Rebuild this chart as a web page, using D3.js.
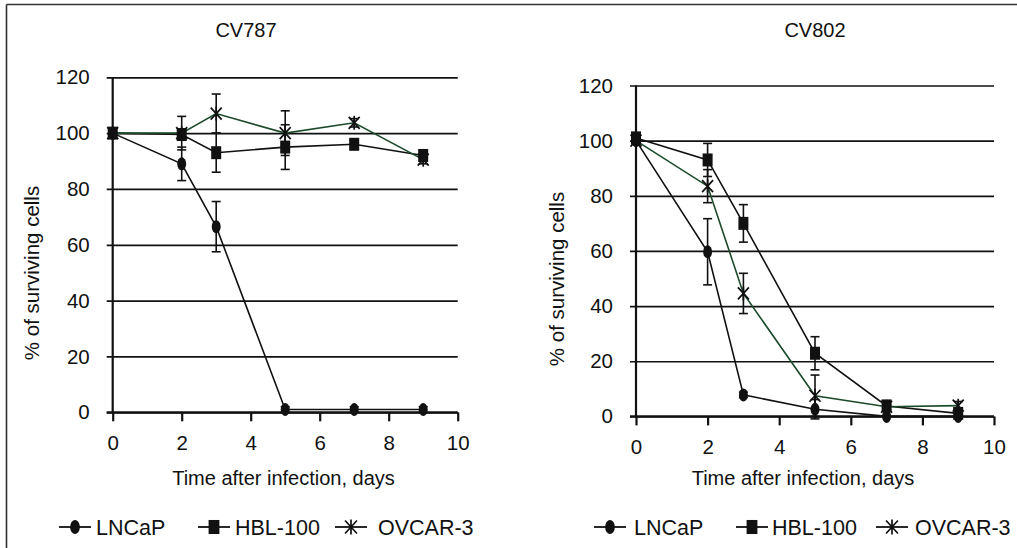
<!DOCTYPE html>
<html><head><meta charset="utf-8">
<script src="https://cdn.jsdelivr.net/npm/d3@7"></script>
<style>body{margin:0;background:#fff}svg{display:block}text{font-family:"Liberation Sans",Arial,sans-serif;fill:#111}</style>
</head><body>
<svg id="c" width="1017" height="548"></svg>
<script>
const days = [0, 2, 3, 5, 7, 9];
const xTicks = [0, 2, 4, 6, 8, 10];
const yTicks = [0, 20, 40, 60, 80, 100, 120];
const seriesNames = ["LNCaP", "HBL-100", "OVCAR-3"];
const panelTitles = ["CV787", "CV802"];
const xTitle = "Time after infection, days";
const yTitle = "% of surviving cells";

// CV787
const cv787_LNCaP = [100, 89, 66.5, 1, 1, 1];
const cv787_LNCaP_err = [0, 6, 9, 1, 1, 1];
const cv787_HBL = [100, 99.5, 93, 95, 96, 92];
const cv787_HBL_err = [0, 2, 7, 8, 1.5, 2];
const cv787_OVCAR = [100, 100, 107, 100, 103.7, 90.5];
const cv787_OVCAR_err = [0, 6, 7, 8, 1.5, 1.5];
// CV802
const cv802_LNCaP = [100, 59.7, 7.8, 2.6, 0, 0];
const cv802_LNCaP_err = [0, 12, 1, 3.5, 0.5, 0.5];
const cv802_HBL = [101, 93, 70, 22.9, 3.8, 1.1];
const cv802_HBL_err = [1, 6, 6.8, 6, 1.5, 1.5];
const cv802_OVCAR = [100, 83.5, 44.6, 7.5, 3.5, 3.9];
const cv802_OVCAR_err = [0, 6, 7.3, 7.5, 1, 1.5];

const svg = d3.select("#c");
const lineColors = ["#111", "#111", "#1d4a2c"];
const markers = ["circle", "square", "star"];

// frame
svg.append("line").attr("x1", 6.5).attr("y1", 4.5).attr("x2", 1017).attr("y2", 4.5).attr("stroke", "#333").attr("stroke-width", 1.6);
svg.append("line").attr("x1", 6.5).attr("y1", 4.5).attr("x2", 6.5).attr("y2", 548).attr("stroke", "#333").attr("stroke-width", 1.6);

function drawMarker(g, type, cx, cy, s) {
  s = s || 1;
  if (type === "circle") {
    g.append("ellipse").attr("cx", cx).attr("cy", cy).attr("rx", 4.5 * s).attr("ry", 6.5 * s).attr("fill", "#111");
  } else if (type === "square") {
    g.append("rect").attr("x", cx - 5 * s).attr("y", cy - 6.5 * s).attr("width", 10 * s).attr("height", 13 * s).attr("fill", "#111");
  } else {
    const p = d3.path();
    p.moveTo(cx, cy - 7 * s); p.lineTo(cx, cy + 7 * s);
    p.moveTo(cx - 5.5 * s, cy - 6 * s); p.lineTo(cx + 5.5 * s, cy + 6 * s);
    p.moveTo(cx + 5.5 * s, cy - 6 * s); p.lineTo(cx - 5.5 * s, cy + 6 * s);
    g.append("path").attr("d", p.toString()).attr("stroke", "#111").attr("stroke-width", 1.7).attr("fill", "none");
  }
}

function panel(cfg) {
  const x = d3.scaleLinear().domain([0, 10]).range([cfg.x0, cfg.x1]);
  const y = d3.scaleLinear().domain([0, 120]).range([cfg.y0, cfg.y1]);
  const g = svg.append("g");

  // gridlines via axis
  const grid = g.append("g").attr("transform", `translate(${cfg.x1},0)`)
    .call(d3.axisLeft(y).tickValues(yTicks).tickSize(cfg.x1 - cfg.x0 + 6).tickFormat(""));
  grid.select(".domain").remove();
  grid.selectAll("line").attr("stroke", "#111").attr("stroke-width", 1.7);

  // y tick labels
  const ya = g.append("g").attr("transform", `translate(${cfg.x0},0)`)
    .call(d3.axisLeft(y).tickValues(yTicks).tickSize(0).tickPadding(23));
  ya.select(".domain").remove();
  ya.selectAll("text").attr("font-size", 20.5).attr("fill", "#111").style("font-family", '"Liberation Sans",Arial,sans-serif');

  // y axis line
  g.append("line").attr("x1", cfg.x0).attr("x2", cfg.x0).attr("y1", y(120)).attr("y2", y(0)).attr("stroke", "#111").attr("stroke-width", 2.2);

  // x axis
  const xa = g.append("g").attr("transform", `translate(0,${cfg.y0})`)
    .call(d3.axisBottom(x).tickValues(xTicks).tickSize(9).tickPadding(14));
  xa.select(".domain").remove();
  xa.selectAll("line").attr("stroke", "#111").attr("stroke-width", 2.2);
  xa.selectAll("text").attr("font-size", 20.5).attr("fill", "#111").style("font-family", '"Liberation Sans",Arial,sans-serif');
  g.append("line").attr("x1", cfg.x0 - 6).attr("x2", cfg.x1).attr("y1", cfg.y0).attr("y2", cfg.y0).attr("stroke", "#111").attr("stroke-width", 2.2);

  // titles
  g.append("text").attr("x", cfg.titleX).attr("y", 37).attr("text-anchor", "middle").attr("font-size", 20).text(cfg.title);
  g.append("text").attr("x", cfg.xtX).attr("y", 485).attr("text-anchor", "middle").attr("font-size", 20).text(xTitle);
  g.append("text").attr("transform", `translate(${cfg.ytX},${cfg.ytY}) rotate(-90)`).attr("text-anchor", "middle").attr("font-size", 20.5).text(yTitle);

  // series
  const line = d3.line().x((d, i) => x(days[i])).y(d => y(d));
  cfg.series.forEach((s, k) => {
    g.append("path").datum(s.v).attr("d", line).attr("fill", "none").attr("stroke", lineColors[k]).attr("stroke-width", 1.6);
  });
  cfg.series.forEach((s, k) => {
    s.v.forEach((v, i) => {
      const e = s.e[i];
      if (e > 0.6) {
        const cx = x(days[i]);
        g.append("line").attr("x1", cx).attr("x2", cx).attr("y1", y(v - e)).attr("y2", y(v + e)).attr("stroke", "#111").attr("stroke-width", 1.6);
        [v - e, v + e].forEach(t => g.append("line").attr("x1", cx - 4.5).attr("x2", cx + 4.5).attr("y1", y(t)).attr("y2", y(t)).attr("stroke", "#111").attr("stroke-width", 1.6));
      }
    });
  });
  cfg.series.forEach((s, k) => {
    s.v.forEach((v, i) => drawMarker(g, markers[k], x(days[i]), y(v)));
  });

  // legend
  cfg.legend.forEach((L, k) => {
    g.append("line").attr("x1", L.lx).attr("x2", L.lx + 32).attr("y1", 527).attr("y2", 527).attr("stroke", "#111").attr("stroke-width", 1.8);
    drawMarker(g, markers[k], L.lx + 16, 527, 1.08);
    g.append("text").attr("x", L.tx).attr("y", 535).attr("font-size", 21.5).text(seriesNames[k]);
  });
}

panel({
  x0: 112.7, x1: 457.7, y0: 412.3, y1: 77.3,
  title: panelTitles[0], titleX: 246, xtX: 283.5, ytX: 39, ytY: 273,
  series: [{v: cv787_LNCaP, e: cv787_LNCaP_err}, {v: cv787_HBL, e: cv787_HBL_err}, {v: cv787_OVCAR, e: cv787_OVCAR_err}],
  legend: [{lx: 59, tx: 96}, {lx: 198, tx: 235}, {lx: 335, tx: 378}]
});
panel({
  x0: 636, x1: 994, y0: 416.4, y1: 85.5,
  title: panelTitles[1], titleX: 815, xtX: 803, ytX: 564, ytY: 279,
  series: [{v: cv802_LNCaP, e: cv802_LNCaP_err}, {v: cv802_HBL, e: cv802_HBL_err}, {v: cv802_OVCAR, e: cv802_OVCAR_err}],
  legend: [{lx: 594, tx: 634}, {lx: 736, tx: 772}, {lx: 876, tx: 915}]
});
</script>
</body></html>
